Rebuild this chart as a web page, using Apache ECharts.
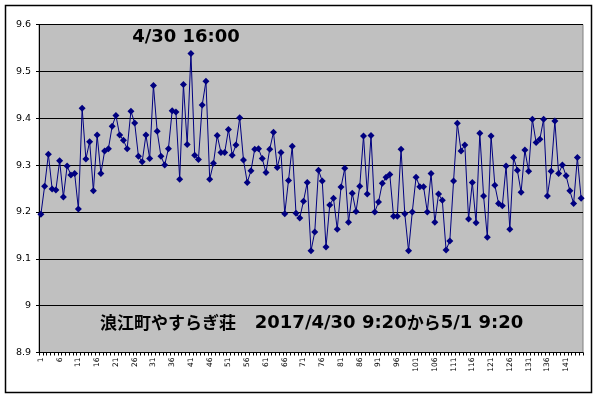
<!DOCTYPE html>
<html><head><meta charset="utf-8">
<script src="https://cdn.jsdelivr.net/npm/echarts@6/dist/echarts.min.js"></script>
<style>html,body{margin:0;padding:0;background:#fff}#c{width:599px;height:398px}</style>
</head><body><div id="c"></div>
<script>
const categories = Array.from({length: 145}, (_, i) => String(i + 1));
const values = [
9.195,9.255,9.323,9.249,9.247,9.309,9.232,9.298,9.279,9.282,
9.206,9.421,9.313,9.350,9.245,9.364,9.282,9.330,9.335,9.383,
9.406,9.364,9.353,9.335,9.415,9.390,9.319,9.307,9.364,9.314,
9.470,9.372,9.319,9.300,9.335,9.416,9.413,9.270,9.472,9.344,
9.538,9.321,9.312,9.428,9.479,9.270,9.304,9.363,9.327,9.327,
9.376,9.321,9.343,9.401,9.311,9.263,9.288,9.334,9.335,9.314,
9.284,9.334,9.370,9.295,9.327,9.196,9.267,9.340,9.197,9.187,
9.223,9.263,9.117,9.157,9.289,9.266,9.125,9.215,9.229,9.163,
9.253,9.293,9.178,9.240,9.201,9.255,9.362,9.238,9.363,9.200,
9.221,9.261,9.274,9.280,9.191,9.191,9.334,9.196,9.117,9.200,
9.274,9.254,9.254,9.200,9.282,9.178,9.238,9.225,9.119,9.138,
9.266,9.389,9.330,9.343,9.185,9.263,9.177,9.368,9.234,9.146,
9.362,9.257,9.218,9.213,9.298,9.163,9.316,9.289,9.242,9.332,
9.287,9.398,9.348,9.355,9.398,9.234,9.287,9.394,9.282,9.300,
9.277,9.245,9.218,9.316,9.229
];
const yMin = 8.9, yMax = 9.6, yStep = 0.1;
const peakLabel = '4/30 16:00';
const captionCJK = '浪江町やすらぎ荘';
const captionLatin = '2017/4/30 9:20';
const captionKara = 'から';
const captionEnd = '5/1 9:20';

const chart = echarts.init(document.getElementById('c'), null, {renderer: 'canvas'});
chart.setOption({
  animation: false,
  backgroundColor: '#ffffff',
  grid: {left: 39, right: 16, top: 24.5, bottom: 45.5, show: true,
         backgroundColor: '#C0C0C0', borderColor: '#808080', borderWidth: 1},
  xAxis: {
    type: 'category', data: categories, boundaryGap: true,
    axisLine: {lineStyle: {color: '#000', width: 1}},
    axisTick: {show: true, interval: 0, length: 3, lineStyle: {color: '#000'}},
    axisLabel: {interval: 4, rotate: 90, fontSize: 7.5, color: '#000',
                fontFamily: 'DejaVu Sans', margin: 5}
  },
  yAxis: {
    type: 'value', min: yMin, max: yMax, interval: yStep,
    axisLine: {show: true, lineStyle: {color: '#000', width: 1}},
    axisTick: {show: true, length: 3, lineStyle: {color: '#000'}},
    axisLabel: {fontSize: 9.5, color: '#000', fontFamily: 'DejaVu Sans', margin: 8},
    splitLine: {show: true, lineStyle: {color: '#000', width: 1}}
  },
  series: [{
    type: 'line', data: values,
    symbol: 'diamond', symbolSize: 7, showSymbol: true, showAllSymbol: true,
    lineStyle: {color: '#000080', width: 1},
    itemStyle: {color: '#000080'}
  }],
  graphic: [
    {type: 'rect', shape: {x: 5.5, y: 5.5, width: 586, height: 387},
     style: {fill: null, stroke: '#000', lineWidth: 1.5}, z: 100},
    {type: 'text', x: 186, y: 37, z: 100,
     style: {text: peakLabel, font: 'bold 18px "DejaVu Sans"', fill: '#000',
             textAlign: 'center', textVerticalAlign: 'middle'}},
    {type: 'text', x: 100, y: 323, z: 100,
     style: {
       text: '{c|' + captionCJK + '}{l|   ' + captionLatin + '}{c|' + captionKara + '}{l|' + captionEnd + '}',
       textVerticalAlign: 'middle', textAlign: 'left',
       rich: {
         c: {font: 'bold 17px "Noto Sans CJK JP"', fill: '#000'},
         l: {font: 'bold 18px "DejaVu Sans"', fill: '#000'}
       }
     }}
  ]
});
</script></body></html>
